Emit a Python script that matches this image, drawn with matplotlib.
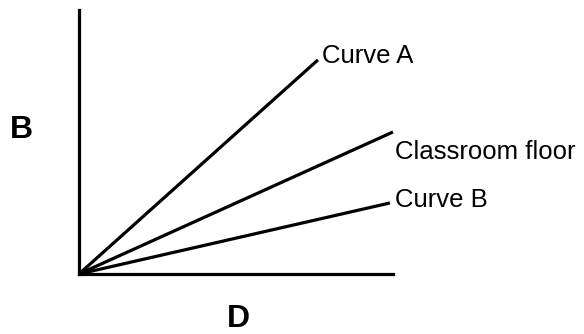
import matplotlib
matplotlib.use("Agg")
import matplotlib.pyplot as plt

plt.rcParams['font.family'] = ['Liberation Sans', 'DejaVu Sans']

# straight lines through the origin: (D end, B end)
names = ['Curve A', 'Classroom floor', 'Curve B']
d_end = [7.61, 10.0, 9.9]
b_end = [8.11, 5.38, 2.69]
# label anchor points next to each line end
label_d = [7.74, 10.06, 10.06]
label_b = [8.26, 4.62, 2.80]

fig = plt.figure(figsize=(5.84, 3.34), dpi=100)
ax = fig.add_axes([79 / 584, 1 - 274 / 334, 314 / 584, 264 / 334])
ax.set_xlim(0, 10)
ax.set_ylim(0, 10)

for d, b in zip(d_end, b_end):
    ax.plot([0, d], [0, b], color='black', lw=2.3, solid_capstyle='butt', clip_on=False)

for name, x, y in zip(names, label_d, label_b):
    ax.text(x, y, name, fontsize=18.5, ha='left', va='center', clip_on=False)

for side in ['top', 'right']:
    ax.spines[side].set_visible(False)
for side in ['left', 'bottom']:
    ax.spines[side].set_linewidth(2.3)
ax.set_xticks([])
ax.set_yticks([])

fig.text(21 / 584, 1 - 130 / 334, 'B', fontsize=23, fontweight='bold', ha='center', va='center')
fig.text(238 / 584, 1 - 319 / 334, 'D', fontsize=23, fontweight='bold', ha='center', va='center')

fig.savefig('out.png', dpi=100)
